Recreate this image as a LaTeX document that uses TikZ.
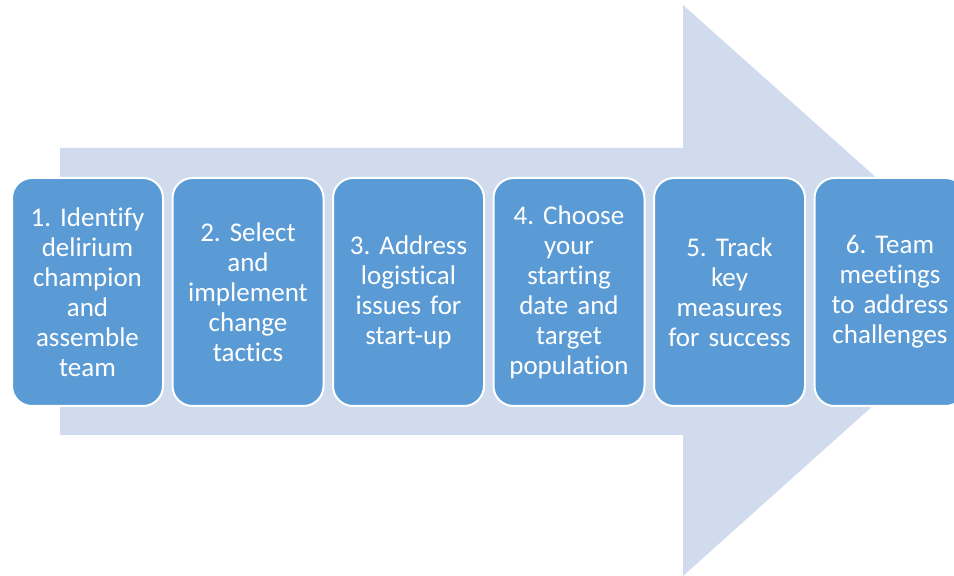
\documentclass[tikz,border=0pt]{standalone}
\usepackage{fontspec}
\setmainfont{Carlito}[Ligatures=NoCommon,Contextuals=NoAlternate]
\usetikzlibrary{positioning}
\definecolor{stepblue}{HTML}{5B9BD5}
\definecolor{arrowblue}{HTML}{D0DBEE}
\frenchspacing

\begin{document}
\begin{tikzpicture}[x=1pt,y=1pt,node distance=160.5pt,on grid,
    stage/.style={draw=white,line width=2pt,fill=stepblue,rounded corners=20pt,
      minimum width=151pt,minimum height=228pt,inner sep=0pt,
      text width=145pt,align=center,text=white,
      font=\fontsize{27}{30}\selectfont}]
            \useasboundingbox (0,0) rectangle (954,576);
            % big arrow behind the steps
            \fill[arrowblue] (60,141) -- (683,141) -- (683,0) -- (1002,286)
              -- (683,571) -- (683,428) -- (60,428) -- cycle;
            \node[stage] (s1) at (87.5,284) {1. Identify\\delirium\\champion\\and\\assemble\\team};
            \node[stage, right=of s1] (s2) {2. Select\\and\\implement\\change\\tactics};
            \node[stage, right=of s2] (s3) {3. Address\\logistical\\issues for\\start-up};
            \node[stage, right=of s3] (s4) {4. Choose\\your\\starting\\date and\\target\\population};
            \node[stage, right=of s4] (s5) {5. Track\\key\\measures\\for success};
            \node[stage, right=of s5] (s6) {6. Team\\meetings\\to address\\challenges};
        \end{tikzpicture}
\end{document}
